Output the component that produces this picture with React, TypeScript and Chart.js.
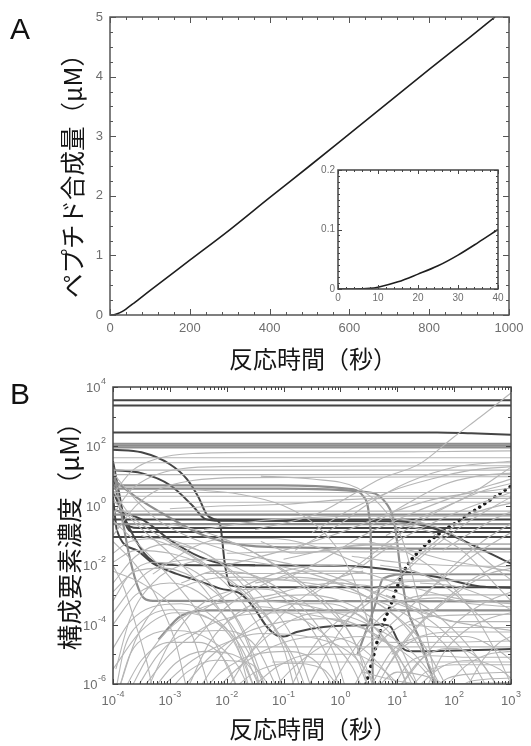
import { useEffect, useRef } from "react";
import { Chart, registerables } from "chart.js";

Chart.register(...registerables);

// ---------- Panel A data ----------
const peptideTime = [0, 5, 10, 20, 30, 40, 60, 100, 200, 300, 400, 500, 600, 700, 800, 900, 965];
const peptideAmount = [0, 0, 0.003, 0.025, 0.057, 0.1, 0.2, 0.41, 0.92, 1.43, 1.97, 2.5, 3.04, 3.58, 4.12, 4.65, 5.0];
const insetTime = [0, 4, 8, 10, 15, 20, 25, 30, 35, 40];
const insetAmount = [0, 0, 0.001, 0.003, 0.012, 0.025, 0.039, 0.057, 0.078, 0.1];

const aXTicks = [0, 200, 400, 600, 800, 1000];
const aYTicks = [0, 1, 2, 3, 4, 5];
const insetXTicks = [0, 10, 20, 30, 40];
const insetYTicks = [0, 0.1, 0.2];

// ---------- Panel B data (points as [log10 time, log10 concentration]) ----------
const bXExponents = [-4, -3, -2, -1, 0, 1, 2, 3];
const bYExponents = [-6, -4, -2, 0, 2, 4];

type Curve = [number, number][];

const darkCurves: Curve[] = [
  [[-4, 3.55], [3, 3.55]],
  [[-4, 3.38], [3, 3.38]],
  [[-4, 2.47], [1.7, 2.47], [2.3, 2.44], [3, 2.39]],
  [[-4, 1.89], [-3.5, 1.8], [-3.0, 1.4], [-2.7, 0.9], [-2.5, 0.3], [-2.35, -0.3], [-2.22, -0.45], [-2.12, -0.6], [-2.03, -2.0], [-1.94, -2.68], [-1.6, -2.74], [3, -2.74]],
  [[-4, 1.2], [-3.5, 1.1], [-3.0, 0.7], [-2.6, 0.0], [-2.4, -0.42], [-2.2, -0.5], [1.0, -0.52], [1.75, -0.83], [2.3, -1.3], [3, -1.95]],
  [[-4, 0.5], [-3.75, -0.6], [-3.45, -1.6], [-3.15, -1.97], [-2.5, -2.0], [0, -2.02], [0.5, -2.07], [1.7, -2.4], [2.46, -2.72], [3, -2.76]],
  [[-3.96, -0.15], [-3.46, -0.49], [-2.99, -1.16], [-2.47, -1.72], [-2.0, -1.97], [-1.5, -2.0]],
  [[-4, 0.3], [-3.93, -0.83], [-3.58, -1.5], [-3.29, -1.95], [-2.88, -2.29], [-2.52, -2.51], [-2.11, -2.79], [-1.76, -2.96], [-1.53, -3.41], [-1.29, -4.08], [-1.12, -4.36], [-1.0, -4.4], [-0.77, -4.25], [-0.3, -4.08], [0.46, -4.02], [0.7, -4.0], [0.87, -4.05], [1.0, -4.5], [1.1, -4.8], [1.25, -4.9], [3, -4.82]],
  [[-4, -0.46], [3, -0.46]],
  [[-4, 1.0], [-3.85, -0.2], [-3.7, -0.7], [-3.55, -0.75], [3, -0.75]],
  [[-4, 1.5], [-3.9, 0.5], [-3.78, -0.6], [-3.65, -0.88], [3, -0.88]],
  [[-4, -1.05], [3, -1.05]],
];

const mediumCurves: Curve[] = [
  [[-4, 2.09], [3, 2.09]],
  [[-4, 2.03], [3, 2.03]],
  [[-4, 1.97], [3, 1.97]],
  [[-4, 0.69], [-1.06, 0.69], [0.11, 0.58], [0.41, 0.3], [0.5, -0.27], [0.54, -1.5], [0.57, -6.2]],
  [[-4, 0.58], [-1.06, 0.58], [0.41, 0.47], [0.76, 0.19], [0.96, -0.71], [1.05, -2.06], [1.17, -3.41], [1.4, -4.53], [1.69, -6.2]],
  [[-4, -0.62], [3, -0.62]],
  [[-4, 1.3], [-3.85, -0.3], [-3.7, -1.8], [-3.55, -2.8], [-3.45, -3.12], [-3.3, -3.2], [3, -3.22]],
  [[-3.2, -4.5], [-2.8, -3.7], [-2.3, -3.52], [3, -3.52]],
  [[-4, 0.9], [-3.6, 0.3], [-3.0, -0.4], [-2.4, -1.0], [-1.8, -1.3], [-1, -1.4], [3, -1.45]],
  [[-4, -0.3], [3, -0.3]],
  [[0.3, -5.0], [0.6, -3.4], [0.75, -2.45], [1.2, -2.3], [3, -2.3]],
];

const lightCurves: Curve[] = [
  [[-4, 1.62], [3, 1.62]],
  [[-4, 1.45], [3, 1.45]],
  [[-4, 1.2], [3, 1.2]],
  [[-4, 1.05], [3, 1.05]],
  [[-4, 0.45], [3, 0.45]],
  [[-4, 0.32], [3, 0.32]],
  [[-4, 0.12], [3, 0.12]],
  [[-4, -0.18], [3, -0.18]],
  [[-4, 0.4], [-3.65, 1.2], [-3.2, 1.6], [-2.6, 1.76], [-1.5, 1.8], [0, 1.8], [1.5, 1.82], [3, 1.85]],
  [[-4, -0.3], [-3.7, 0.5], [-3.3, 1.0], [-2.8, 1.25], [-2, 1.32], [3, 1.35]],
  [[-4, -1.0], [-3.6, 0.0], [-3.2, 0.55], [-2.6, 0.85], [-1.8, 0.95], [3, 0.98]],
  [[-3.9, -6.2], [-3.6, -4.5], [-3.2, -3.3], [-2.6, -2.6], [-1.8, -2.4], [-1, -2.5], [0, -2.8], [1, -3.5], [1.8, -4.6], [2.4, -6.2]],
  [[-3.7, -6.2], [-3.3, -4.8], [-2.8, -3.8], [-2.2, -3.3], [-1.5, -3.2], [-0.5, -3.4], [0.5, -4.0], [1.3, -5.0], [1.8, -6.2]],
  [[-3.95, -5.5], [-3.7, -3.8], [-3.3, -2.6], [-2.8, -2.0], [-2.2, -1.8], [-1.5, -1.9], [-0.5, -2.3], [0.4, -3.0], [1.2, -4.2], [1.8, -6.2]],
  [[-3.5, -6.2], [-3.0, -5.0], [-2.4, -4.1], [-1.8, -3.7], [-1.0, -3.6], [0, -3.9], [0.8, -4.6], [1.4, -6.2]],
  [[-3.2, -6.2], [-2.6, -5.2], [-2.0, -4.6], [-1.4, -4.3], [-0.6, -4.4], [0.2, -5.0], [0.7, -6.2]],
  [[-2.8, -6.2], [-2.3, -5.1], [-1.7, -4.3], [-1.0, -3.9], [-0.2, -3.8], [0.5, -4.2], [1.0, -5.0], [1.3, -6.2]],
  [[-2.2, -6.2], [-1.7, -5.3], [-1.0, -4.6], [-0.3, -4.4], [0.3, -4.7], [0.8, -5.6], [1.0, -6.2]],
  [[-1.6, -6.2], [-1.1, -5.4], [-0.5, -5.0], [0.2, -5.0], [0.8, -5.6], [1.1, -6.2]],
  [[-4, 0.2], [-3.6, -0.6], [-3.0, -1.6], [-2.4, -2.8], [-1.9, -4.2], [-1.5, -6.2]],
  [[-4, -0.5], [-3.5, -1.4], [-3.0, -2.4], [-2.5, -3.6], [-2.1, -5.0], [-1.8, -6.2]],
  [[-4, -1.2], [-3.6, -2.0], [-3.2, -3.2], [-2.9, -4.6], [-2.7, -6.2]],
  [[-4, 0.5], [-3.7, -0.3], [-3.2, -1.0], [-2.5, -1.8], [-1.8, -2.8], [-1.2, -4.0], [-0.8, -5.2], [-0.6, -6.2]],
  [[-4, -2.0], [-3.8, -2.8], [-3.6, -4.0], [-3.4, -5.3], [-3.3, -6.2]],
  [[-4, -4.0], [-3.6, -3.0], [-3.0, -2.6], [-2.5, -2.9], [-2.0, -3.8], [-1.6, -5.0], [-1.3, -6.2]],
  [[-4, -5.5], [-3.5, -4.2], [-2.9, -3.6], [-2.3, -3.8], [-1.8, -4.6], [-1.4, -6.2]],
  [[-4, -2.6], [-3.6, -1.7], [-3.1, -1.3], [-2.5, -1.5], [-1.9, -2.2], [-1.3, -3.2], [-0.8, -4.6], [-0.5, -6.2]],
  [[-1.5, -0.8], [-0.41, -0.27], [0.23, 0.4], [0.7, 0.9], [1.4, 1.42], [1.99, 2.31], [2.46, 2.99], [3, 3.8]],
  [[-0.8, -1.5], [0, -0.6], [0.52, 0.1], [1.2, 0.8], [2, 1.3], [3, 1.5]],
  [[-0.5, -3.0], [0.3, -2.0], [1, -1.0], [1.7, -0.2], [2.3, 0.4], [3, 1.3]],
  [[0, -4.0], [0.8, -2.8], [1.5, -1.6], [2.2, -0.6], [3, 0.3]],
  [[-1, -2.5], [-0.3, -1.8], [0.4, -1.0], [1.2, -0.3], [2, 0.3], [3, 0.9]],
  [[0.3, -5.0], [1, -3.8], [1.7, -2.6], [2.4, -1.6], [3, -0.9]],
  [[-2, -2.0], [-1, -1.5], [0, -0.9], [0.8, -0.3], [1.6, 0.2], [3, 0.6]],
  [[0.6, -6.2], [1.1, -4.6], [1.7, -3.4], [2.3, -2.5], [3, -1.8]],
  [[1.0, -6.2], [1.5, -5.0], [2, -4.0], [2.5, -3.3], [3, -2.9]],
  [[0.8, -5.5], [1.3, -4.2], [2.0, -3.0], [2.6, -2.3], [3, -2.1]],
  [[0.5, -1.2], [1.2, -1.6], [1.8, -2.4], [2.3, -3.5], [2.7, -4.8], [3, -6.0]],
  [[0.0, -2.6], [0.8, -2.8], [1.5, -3.4], [2.1, -4.4], [2.6, -5.6], [2.8, -6.2]],
  [[1.0, -0.6], [1.6, -0.9], [2.2, -1.6], [2.7, -2.6], [3, -3.2]],
  [[1.0, -6.2], [1.4, -5.2], [1.9, -4.8], [2.4, -5.1], [2.8, -6.2]],
  [[1.3, -6.2], [1.8, -5.4], [2.3, -5.2], [2.8, -5.5], [3, -5.8]],
  [[0.9, -5.0], [1.5, -4.4], [2.2, -4.4], [2.8, -4.9], [3, -5.2]],
  [[-2.5, -3.6], [-1.8, -2.8], [-1.0, -2.2], [-0.2, -2.0], [0.4, -2.1]],
  [[-2.2, -1.0], [-1.5, -1.6], [-0.8, -2.5], [-0.2, -3.5], [0.3, -4.8], [0.5, -6.2]],
  [[-1.8, -5.5], [-1.2, -4.0], [-0.6, -3.0], [0, -2.4], [0.4, -2.2]],
  [[-3.0, -0.6], [-2.2, -1.0], [-1.4, -1.7], [-0.6, -2.7], [0, -3.8], [0.4, -5.2], [0.6, -6.2]],
  [[-1.4, -1.2], [-0.8, -1.6], [-0.2, -1.5], [0.4, -1.3], [1.0, -1.4], [1.8, -1.8], [3, -2.2]],
  [[-2.6, -4.6], [-2.0, -3.4], [-1.3, -2.6], [-0.6, -2.2], [0.2, -2.2], [1, -2.6], [2, -3.1], [3, -3.3]],
  [[-0.9, -6.2], [-0.5, -4.8], [0, -3.8], [0.4, -3.3]],
  [[-3.3, -2.3], [-2.6, -1.4], [-2, -1.1], [-1.2, -1.1], [-0.4, -1.4], [0.4, -2.0]],
  [[0.9, -6.2], [1.2, -5.3], [1.6, -5.05], [2.2, -5.1], [3, -5.1]],
  [[1.2, -6.2], [1.5, -5.6], [2, -5.35], [3, -5.35]],
  [[0.5, -6.2], [0.9, -4.9], [1.4, -4.4], [2, -4.25], [3, -4.25]],
  [[0.2, -6.2], [0.7, -4.6], [1.2, -3.9], [1.8, -3.7], [3, -3.65]],
  [[-0.2, -6.2], [0.4, -4.4], [1.0, -3.3], [1.6, -3.0], [3, -3.0]],
  [[1.6, -6.2], [1.9, -5.8], [2.4, -5.65], [3, -5.6]],
  [[2.0, -6.2], [2.3, -5.9], [3, -5.8]],
  [[-0.6, -6.2], [0.0, -4.2], [0.6, -2.9], [1.2, -2.55], [3, -2.5]],
  [[0.3, -4.0], [0.9, -4.6], [1.5, -4.6], [3, -4.55]],
  [[-1.0, -1.8], [0, -1.4], [1, -1.3], [3, -1.3]],
  [[-2, -1.6], [-1, -1.55], [3, -1.55]],
  [[0.8, -3.0], [1.4, -3.5], [2, -3.9], [3, -3.9]],
  [[-3.0, -1.28], [3, -1.28]],
  [[-2.4, -2.28], [3, -2.28]],
  [[-2.0, -2.5], [3, -2.5]],
  [[-1.8, -4.75], [3, -4.75]],
  [[-1.2, -5.26], [3, -5.26]],
  [[-4, -3.2], [-3.7, -2.3], [-3.3, -1.9], [-2.8, -2.0], [-2.3, -2.6], [-1.9, -3.6], [-1.6, -4.8], [-1.4, -6.2]],
  [[-4, -4.8], [-3.7, -3.9], [-3.3, -3.4], [-2.8, -3.3], [-2.2, -3.8], [-1.8, -4.8], [-1.6, -6.2]],
  [[-3.8, -6.2], [-3.5, -5.2], [-3.0, -4.6], [-2.5, -4.6], [-2.0, -5.3], [-1.8, -6.2]],
  [[-4, 1.1], [-3.6, 0.2], [-3.2, -0.5], [-2.6, -1.1], [-1.8, -1.6], [-0.8, -2.0], [0.2, -2.6], [1, -3.3], [2, -3.9], [3, -4.2]],
  [[-2.6, 0.55], [-1.8, 0.4], [-1, 0.0], [-0.4, -0.7], [0, -1.6], [0.3, -2.8], [0.5, -4.0]],
  [[-1.4, 1.0], [-0.5, 0.9], [0.3, 0.6], [0.8, -0.2], [1.1, -1.2], [1.3, -2.6], [1.5, -4.2], [1.7, -6.2]],
  [[-0.5, -0.9], [0.2, -0.1], [0.9, 0.5], [1.6, 0.9], [2.3, 1.2], [3, 1.32]],
  [[0.4, -2.0], [1.0, -1.2], [1.6, -0.6], [2.2, -0.1], [3, 0.45]],
  [[-3.95, -6.2], [-3.8, -4.8], [-3.5, -3.9], [-3.0, -3.5], [-2.4, -3.7], [-1.9, -4.5], [-1.5, -6.2]],
  [[-3.6, -6.2], [-3.2, -5.0], [-2.7, -4.3], [-2.1, -4.2], [-1.5, -4.7], [-1.1, -6.2]],
  [[-3.0, -6.2], [-2.7, -5.6], [-2.2, -5.2], [-1.6, -5.3], [-1.2, -6.2]],
  [[-2.5, -6.2], [-2.0, -4.8], [-1.4, -3.8], [-0.8, -3.3], [-0.2, -3.3], [0.4, -3.8], [0.9, -4.8], [1.2, -6.2]],
  [[-4, -2.2], [-3.5, -2.6], [-3.0, -3.3], [-2.6, -4.4], [-2.3, -6.2]],
  [[-4, -1.6], [-3.7, -1.2], [-3.2, -1.1], [-2.6, -1.4], [-2.0, -2.1], [-1.5, -3.2], [-1.0, -4.8], [-0.8, -6.2]],
  [[-4, -3.6], [-3.5, -2.4], [-3.0, -1.9], [-2.4, -1.8], [-1.8, -2.1], [-1.2, -2.8], [-0.6, -3.9], [-0.2, -5.2], [0, -6.2]],
  [[-3.4, -6.2], [-3.0, -4.6], [-2.5, -3.4], [-2.0, -2.9], [-1.4, -2.8], [-0.8, -3.1], [-0.2, -3.9], [0.3, -5.2], [0.5, -6.2]],
  [[-2.0, -6.2], [-1.6, -5.0], [-1.0, -4.0], [-0.4, -3.6], [0.2, -3.6], [0.6, -4.1], [1.0, -5.2], [1.2, -6.2]],
  [[-1.2, -6.2], [-0.8, -5.4], [-0.2, -4.6], [0.4, -4.4], [1.0, -4.8], [1.5, -5.6], [1.7, -6.2]],
  [[-2.8, -2.6], [-2.2, -2.2], [-1.6, -2.3], [-1.0, -2.9], [-0.5, -3.8], [-0.1, -5.0], [0.1, -6.2]],
  [[-1.8, -3.2], [-1.2, -3.0], [-0.6, -2.7], [0.0, -2.6], [0.6, -2.9], [1.2, -3.4], [1.8, -4.2], [2.3, -5.2], [2.6, -6.2]],
  [[1.5, -6.2], [1.8, -5.0], [2.2, -4.2], [2.6, -3.8], [3, -3.6]],
  [[0.6, -6.2], [1.0, -5.6], [1.6, -5.8], [2.0, -6.2]],
  [[1.8, -6.2], [2.2, -5.4], [2.6, -5.0], [3, -4.9]],
  [[0.7, -2.0], [1.3, -2.2], [1.9, -2.8], [2.5, -3.8], [3, -4.6]],
  [[0.2, -1.7], [1.0, -1.9], [1.8, -2.0], [3, -2.05]],
  [[1.1, -3.2], [1.7, -3.1], [2.3, -3.3], [3, -3.4]],
  [[0.4, -5.6], [1.0, -5.9], [1.5, -6.0], [3, -5.95]],
  [[1.2, -4.0], [1.8, -4.1], [3, -4.1]],
  [[-3.0, -0.1], [-2.0, 0.0], [-1.0, 0.05], [0, 0.2], [1, 0.25], [3, 0.25]],
  [[-2.4, -0.8], [-1.4, -0.5], [-0.6, -0.4], [0.4, -0.35], [3, -0.35]],
  [[-3.9, -6.2], [-3.7, -5.0], [-3.4, -4.4], [-2.9, -4.2], [-2.3, -4.5], [-1.8, -5.4], [-1.6, -6.2]],
  [[-3.3, -6.2], [-2.9, -5.3], [-2.4, -4.9], [-1.9, -5.0], [-1.5, -5.7], [-1.4, -6.2]],
  [[-2.7, -6.2], [-2.3, -4.6], [-1.8, -3.6], [-1.2, -3.1], [-0.6, -3.0], [0, -3.2], [0.5, -3.7], [1.0, -4.6], [1.4, -6.2]],
  [[-2.4, -6.2], [-2.1, -5.6], [-1.5, -5.0], [-0.9, -4.9], [-0.4, -5.3], [-0.1, -6.2]],
  [[-1.9, -6.2], [-1.5, -5.6], [-0.9, -5.3], [-0.3, -5.5], [0.0, -6.2]],
  [[-4, -1.9], [-3.6, -1.5], [-3.0, -1.6], [-2.4, -2.0], [-1.8, -2.7], [-1.3, -3.7], [-0.9, -5.0], [-0.7, -6.2]],
  [[-4, -2.9], [-3.6, -2.2], [-3.1, -2.1], [-2.6, -2.4], [-2.1, -3.1], [-1.7, -4.2], [-1.3, -6.2]],
  [[-3.5, -1.0], [-2.8, -1.5], [-2.2, -2.3], [-1.7, -3.3], [-1.3, -4.6], [-1.0, -6.2]],
  [[-2.0, -3.9], [-1.4, -3.4], [-0.8, -3.7], [-0.3, -4.3], [0.2, -5.4], [0.4, -6.2]],
  [[-1.5, -2.6], [-0.9, -2.4], [-0.3, -2.5], [0.3, -2.9], [0.9, -3.6], [1.4, -4.5], [1.9, -6.2]],
  [[0.8, -1.0], [1.4, -0.4], [2, 0.1], [2.5, 0.5], [3, 0.75]],
  [[1.2, -2.0], [1.8, -1.0], [2.3, -0.3], [3, 0.1]],
  [[1.5, -3.0], [2.0, -2.0], [2.5, -1.2], [3, -0.6]],
  [[0.5, -0.7], [1.2, 0.1], [1.8, 0.7], [2.4, 1.0], [3, 1.1]],
  [[1.8, -1.5], [2.3, -0.9], [2.7, -0.45], [3, -0.2]],
  [[2.2, -6.2], [2.5, -5.2], [2.8, -4.6], [3, -4.4]],
  [[1.4, -2.6], [2.0, -2.7], [2.6, -3.1], [3, -3.5]],
  [[0.9, -0.4], [1.5, -0.6], [2.1, -1.1], [2.6, -1.9], [3, -2.5]],
];

const dottedCurve: Curve = [[0.45, -6], [0.55, -5.29], [0.69, -4.28], [0.87, -3.41], [1.1, -2.26], [1.4, -1.49], [1.75, -0.92], [2.05, -0.55], [2.45, -0.04], [3, 0.66]];

// ---------- drawing helpers ----------
const NUM_FONT = '"Liberation Sans", Arial, Helvetica, sans-serif';
const CJK_FONT = '"Noto Sans CJK JP", "Noto Sans", sans-serif';

type AxisSpec = {
  major: number[];
  minor: number[];
  label: (v: number) => string;
};

type FrameOpts = {
  x: AxisSpec;
  y: AxisSpec;
  frameColor: string;
  frameWidth: number;
  majorLen: number;
  minorLen: number;
  font: number;
  labelColor: string;
  xLabelY: number;
  yLabelGap: number;
  pow?: boolean;
  supFont?: number;
  rise?: number;
};

function drawPow(ctx: CanvasRenderingContext2D, exp: string, x: number, y: number, align: "center" | "right", font: number, supFont: number, rise: number) {
  ctx.font = `${font}px ${NUM_FONT}`;
  const w1 = ctx.measureText("10").width;
  ctx.font = `${supFont}px ${NUM_FONT}`;
  const w2 = ctx.measureText(exp).width;
  const total = w1 + w2 + 0.5;
  const start = align === "center" ? x - total / 2 : x - total;
  ctx.textAlign = "left";
  ctx.textBaseline = "alphabetic";
  ctx.font = `${font}px ${NUM_FONT}`;
  ctx.fillText("10", start, y);
  ctx.font = `${supFont}px ${NUM_FONT}`;
  ctx.fillText(exp, start + w1 + 0.5, y - rise);
}

function framePlugin(o: FrameOpts) {
  return {
    id: "frameTicks",
    afterDraw(chart: any) {
      const { ctx, chartArea: a, scales } = chart;
      const xs = scales.x;
      const ys = scales.y;
      ctx.save();
      ctx.strokeStyle = o.frameColor;
      ctx.lineWidth = 1;
      ctx.lineCap = "butt";
      const tickX = (v: number, len: number) => {
        const px = Math.round(xs.getPixelForValue(v)) + 0.5;
        ctx.beginPath();
        ctx.moveTo(px, a.bottom);
        ctx.lineTo(px, a.bottom - len);
        ctx.moveTo(px, a.top);
        ctx.lineTo(px, a.top + len);
        ctx.stroke();
      };
      const tickY = (v: number, len: number) => {
        const py = Math.round(ys.getPixelForValue(v)) + 0.5;
        ctx.beginPath();
        ctx.moveTo(a.left, py);
        ctx.lineTo(a.left + len, py);
        ctx.moveTo(a.right, py);
        ctx.lineTo(a.right - len, py);
        ctx.stroke();
      };
      o.x.minor.forEach((v) => tickX(v, o.minorLen));
      o.x.major.forEach((v) => tickX(v, o.majorLen));
      o.y.minor.forEach((v) => tickY(v, o.minorLen));
      o.y.major.forEach((v) => tickY(v, o.majorLen));
      ctx.lineWidth = o.frameWidth;
      ctx.strokeRect(a.left, a.top, a.right - a.left, a.bottom - a.top);

      ctx.fillStyle = o.labelColor;
      if (o.pow) {
        const sf = o.supFont || 9;
        const rise = o.rise || 7;
        o.x.major.forEach((v) => {
          drawPow(ctx, o.x.label(v), xs.getPixelForValue(v), a.bottom + o.xLabelY, "center", o.font, sf, rise);
        });
        o.y.major.forEach((v) => {
          drawPow(ctx, o.y.label(v), a.left - o.yLabelGap, ys.getPixelForValue(v) + 5, "right", o.font, sf, rise);
        });
      } else {
        ctx.font = `${o.font}px ${NUM_FONT}`;
        ctx.textAlign = "center";
        ctx.textBaseline = "middle";
        o.x.major.forEach((v) => {
          ctx.fillText(o.x.label(v), xs.getPixelForValue(v), a.bottom + o.xLabelY);
        });
        ctx.textAlign = "right";
        o.y.major.forEach((v) => {
          ctx.fillText(o.y.label(v), a.left - o.yLabelGap, ys.getPixelForValue(v));
        });
      }
      ctx.restore();
    },
  };
}

function stepList(min: number, max: number, step: number) {
  const out: number[] = [];
  for (let v = min; v <= max + step / 1000; v += step) out.push(Math.round(v / step) * step);
  return out;
}

function logMinor(minExp: number, maxExp: number) {
  const out: number[] = [];
  for (let e = minExp; e < maxExp; e++) for (let m = 2; m <= 9; m++) out.push(m * 10 ** e);
  return out;
}

const toPts = (c: Curve) => c.map(([lx, ly]) => ({ x: 10 ** lx, y: 10 ** ly }));

const hiddenLinear = (min: number, max: number) => ({ type: "linear" as const, min, max, display: false });

export default function App() {
  const aRef = useRef<HTMLCanvasElement>(null);
  const insetRef = useRef<HTMLCanvasElement>(null);
  const bRef = useRef<HTMLCanvasElement>(null);

  useEffect(() => {
    const charts: Chart[] = [];

    charts.push(
      new Chart(aRef.current!, {
        type: "line",
        data: {
          datasets: [
            {
              data: peptideTime.map((t, i) => ({ x: t, y: peptideAmount[i] })),
              borderColor: "#1e1e1e",
              borderWidth: 1.6,
              pointRadius: 0,
              cubicInterpolationMode: "monotone",
              clip: 0,
            } as any,
          ],
        },
        options: {
          responsive: false,
          animation: false,
          layout: { padding: { left: 110, right: 22, top: 17, bottom: 55 } },
          plugins: { legend: { display: false }, tooltip: { enabled: false } },
          scales: { x: hiddenLinear(0, 1000), y: hiddenLinear(0, 5) },
        },
        plugins: [
          framePlugin({
            x: { major: aXTicks, minor: stepList(0, 1000, 40), label: (v) => String(v) },
            y: { major: aYTicks, minor: stepList(0, 5, 0.25), label: (v) => String(v) },
            frameColor: "#555",
            frameWidth: 1.5,
            majorLen: 6,
            minorLen: 3,
            font: 13,
            labelColor: "#6e6e6e",
            xLabelY: 13,
            yLabelGap: 7,
          }),
        ],
      })
    );

    charts.push(
      new Chart(insetRef.current!, {
        type: "line",
        data: {
          datasets: [
            {
              data: insetTime.map((t, i) => ({ x: t, y: insetAmount[i] })),
              borderColor: "#1e1e1e",
              borderWidth: 1.6,
              pointRadius: 0,
              cubicInterpolationMode: "monotone",
              clip: 0,
            } as any,
          ],
        },
        options: {
          responsive: false,
          animation: false,
          layout: { padding: { left: 38, right: 12, top: 10, bottom: 21 } },
          plugins: { legend: { display: false }, tooltip: { enabled: false } },
          scales: { x: hiddenLinear(0, 40), y: hiddenLinear(0, 0.2) },
        },
        plugins: [
          framePlugin({
            x: { major: insetXTicks, minor: stepList(0, 40, 2), label: (v) => String(v) },
            y: { major: insetYTicks, minor: stepList(0, 0.2, 0.01), label: (v) => String(v) },
            frameColor: "#444",
            frameWidth: 1.5,
            majorLen: 4,
            minorLen: 2,
            font: 10,
            labelColor: "#6e6e6e",
            xLabelY: 9,
            yLabelGap: 3,
          }),
        ],
      })
    );

    const group = (curves: Curve[], color: string, width: number) =>
      curves.map((c) => ({
        data: toPts(c),
        borderColor: color,
        borderWidth: width,
        pointRadius: 0,
        cubicInterpolationMode: "monotone",
        clip: 0,
      }));

    charts.push(
      new Chart(bRef.current!, {
        type: "line",
        data: {
          datasets: [
            ...group(lightCurves, "#b6b6b6", 1.1),
            ...group(mediumCurves, "#8e8e8e", 2.2),
            ...group(darkCurves, "#454545", 2),
            {
              data: toPts(dottedCurve),
              borderColor: "#1a1a1a",
              borderWidth: 3.5,
              borderDash: [0.1, 6],
              borderCapStyle: "round",
              pointRadius: 0,
              cubicInterpolationMode: "monotone",
              clip: 0,
            },
          ] as any,
        },
        options: {
          responsive: false,
          animation: false,
          layout: { padding: { left: 113, right: 20, top: 17, bottom: 62 } },
          plugins: { legend: { display: false }, tooltip: { enabled: false } },
          scales: {
            x: { type: "logarithmic", min: 1e-4, max: 1e3, display: false },
            y: { type: "logarithmic", min: 1e-6, max: 1e4, display: false },
          },
        },
        plugins: [
          framePlugin({
            x: { major: bXExponents.map((e) => 10 ** e), minor: logMinor(-4, 3), label: (v) => String(Math.round(Math.log10(v))) },
            y: {
              major: bYExponents.map((e) => 10 ** e),
              minor: [-5, -3, -1, 1, 3].map((e) => 10 ** e),
              label: (v) => String(Math.round(Math.log10(v))),
            },
            frameColor: "#444",
            frameWidth: 1.5,
            majorLen: 5,
            minorLen: 3,
            font: 13,
            labelColor: "#6e6e6e",
            xLabelY: 21,
            yLabelGap: 7,
            pow: true,
            supFont: 9,
            rise: 8,
          }),
        ],
      })
    );

    return () => charts.forEach((c) => c.destroy());
  }, []);

  const title: React.CSSProperties = {
    position: "absolute",
    fontFamily: CJK_FONT,
    fontSize: 24,
    lineHeight: 1,
    color: "#151515",
    whiteSpace: "nowrap",
  };
  const letter: React.CSSProperties = {
    position: "absolute",
    fontFamily: NUM_FONT,
    fontSize: 30,
    lineHeight: 1,
    color: "#111",
  };

  return (
    <div style={{ position: "absolute", left: 0, top: 0, width: 531, height: 746, background: "#fff", overflow: "hidden" }}>
      <canvas ref={aRef} width={531} height={370} style={{ position: "absolute", left: 0, top: 0 }} />
      <canvas ref={insetRef} width={210} height={150} style={{ position: "absolute", left: 300, top: 160 }} />
      <canvas ref={bRef} width={531} height={376} style={{ position: "absolute", left: 0, top: 370 }} />
      <div style={{ ...letter, left: 10, top: 14 }}>A</div>
      <div style={{ ...letter, left: 10, top: 379 }}>B</div>
      <div style={{ ...title, fontSize: 24.5, left: 71.5, top: 170, transform: "translate(-50%, -50%) rotate(-90deg)" }}>ペプチド合成量（μM）</div>
      <div style={{ ...title, left: 313, top: 358, transform: "translate(-50%, -50%)" }}>反応時間（秒）</div>
      <div style={{ ...title, fontSize: 25.5, left: 67.5, top: 530, transform: "translate(-50%, -50%) rotate(-90deg)" }}>構成要素濃度（μM）</div>
      <div style={{ ...title, left: 313, top: 728, transform: "translate(-50%, -50%)" }}>反応時間（秒）</div>
    </div>
  );
}
